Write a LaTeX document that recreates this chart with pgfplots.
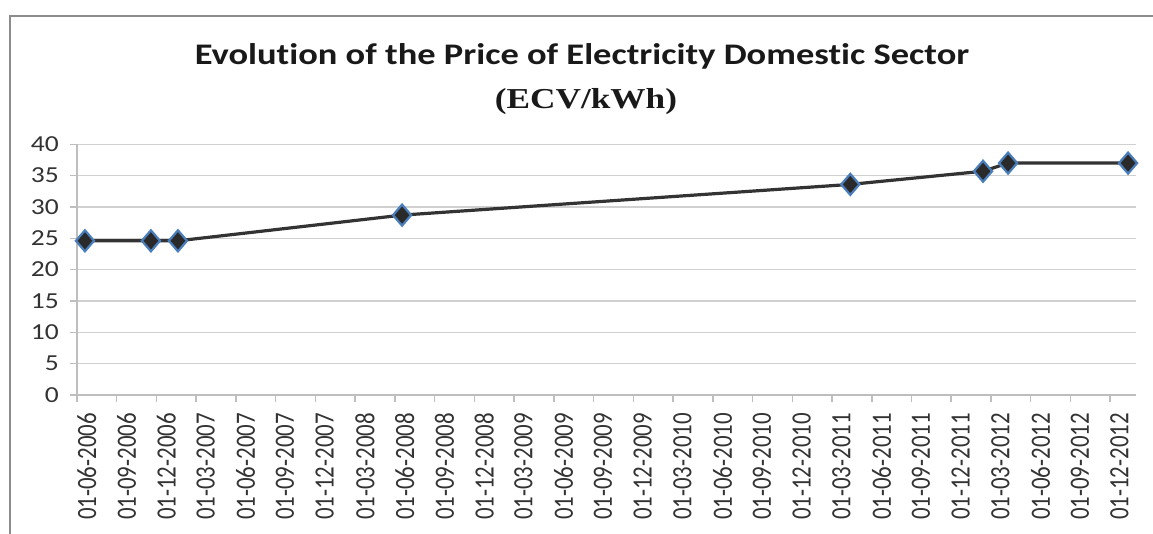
\documentclass[border=0pt]{standalone}
\usepackage{pgfplots}
\pgfplotsset{compat=1.18}
\usepackage{fontspec}
\setmainfont{Carlito}
\newfontfamily\titlefont[FakeStretch=1.22, Ligatures=NoCommon]{Carlito}
\newfontfamily\serifb[FakeStretch=1.22]{Liberation Serif}
\newfontfamily\ylabfont[FakeStretch=1.2]{Carlito}
\newfontfamily\xlabfont[FakeStretch=0.82]{Carlito}
\definecolor{gridc}{HTML}{D0D0D0}
\definecolor{axisc}{HTML}{BEBEBE}
\definecolor{bordc}{HTML}{8C8C8C}
\definecolor{labc}{HTML}{333333}
\definecolor{linec}{HTML}{333333}
\definecolor{mfill}{HTML}{2A2A2A}
\definecolor{medge}{HTML}{4A7EBB}
\begin{document}
\begin{tikzpicture}[x=1bp,y=1bp]
\useasboundingbox (0,0) rectangle (1153,534);
\draw[color=bordc, line width=2bp] (10,-5) -- (10,518) -- (1160,518);
\node[anchor=base, inner sep=0pt, text=black!90, font=\fontsize{30}{31}\selectfont\titlefont\bfseries] at (582,469) {Evolution of the Price of Electricity Domestic Sector};
\node[anchor=base, inner sep=0pt, text=black!90, font=\fontsize{29}{30}\selectfont\serifb\bfseries] at (586,425) {(ECV/kWh)};
\begin{axis}[
  at={(77bp,139bp)}, anchor=south west,
  scale only axis, width=1059bp, height=250.7bp,
  xmin=0, xmax=26.65, ymin=0, ymax=40,
  axis lines*=left,
  axis line style={axisc, line width=1.5bp},
  ytick={0,5,...,40},
  ymajorgrids, grid style={gridc, line width=1.5bp},
  xtick={0,...,26},
  xticklabels={01-06-2006,01-09-2006,01-12-2006,01-03-2007,01-06-2007,01-09-2007,01-12-2007,01-03-2008,01-06-2008,01-09-2008,01-12-2008,01-03-2009,01-06-2009,01-09-2009,01-12-2009,01-03-2010,01-06-2010,01-09-2010,01-12-2010,01-03-2011,01-06-2011,01-09-2011,01-12-2011,01-03-2012,01-06-2012,01-09-2012,01-12-2012},
  tick align=outside, major tick length=7bp,
  tick style={axisc, line width=1.5bp},
  /pgf/number format/assume math mode=true,
  x tick label style={rotate=90, anchor=north east, inner sep=0pt, font=\fontsize{28}{29}\selectfont\xlabfont, text=labc},
  y tick label style={anchor=east, inner sep=0pt, font=\fontsize{23}{24}\selectfont\ylabfont, text=labc},
  xticklabel shift=11bp,
  yticklabel shift=11bp,
  clip=false,
]
\addplot[color=linec, line width=3.2bp, mark=diamond*, mark size=10.5bp,
  mark options={fill=mfill, draw=medge, line width=2.2bp, solid, xscale=1.15}]
  coordinates {
  (0.20,24.6) (1.86,24.6) (2.54,24.6) (8.18,28.7)
  (19.46,33.6) (22.80,35.7) (23.43,37.0) (26.45,37.0)
  };
\end{axis}
\end{tikzpicture}
\end{document}
